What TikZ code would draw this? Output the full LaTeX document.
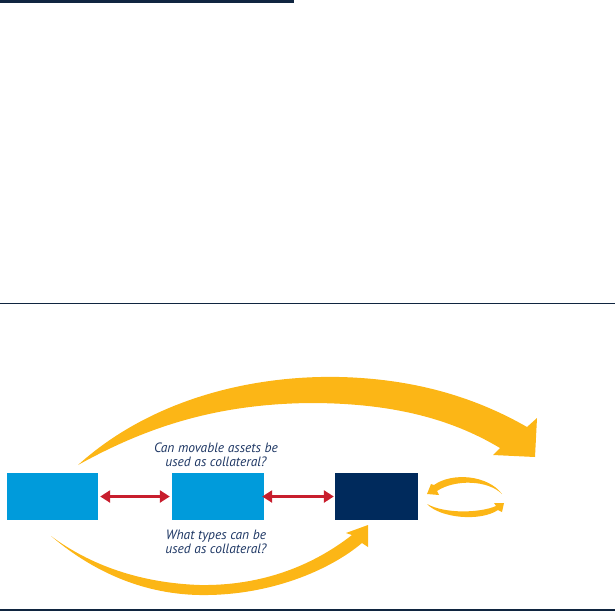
\documentclass[tikz,border=0pt]{standalone}
\usepackage{fontspec}
\setmainfont{PT Sans}
\usetikzlibrary{arrows.meta}
\definecolor{boxblue}{RGB}{0,155,219}
\definecolor{boxnavy}{RGB}{0,42,92}
\definecolor{rulenavy}{RGB}{16,37,64}
\definecolor{textnavy}{RGB}{30,55,100}
\definecolor{arrowred}{RGB}{200,30,45}
\definecolor{arrowgold}{RGB}{252,182,22}
\tikzset{
	stagebox/.style={minimum width=#1, minimum height=47pt, inner sep=0pt},
	link/.style={color=arrowred, line width=3.5pt, {Triangle[length=10pt,width=12pt]}-{Triangle[length=10pt,width=12pt]}, shorten >=2pt, shorten <=2pt},
	question/.style={align=center, inner sep=0pt, text=textnavy, font=\itshape\fontsize{13.5}{14}\selectfont}
}

\begin{document}
\begin{tikzpicture}[x=1pt, y=-1pt]
			%%%%% START %%%%%
			\useasboundingbox (0,0) rectangle (615,611);
			
			\fill[color=rulenavy] (0,0) rectangle (294,2.5);
			\fill[color=rulenavy] (0,302.5) rectangle (615,303.5);
			\fill[color=rulenavy] (0,608.5) rectangle (615,611);
			
			\node[stagebox=91pt, fill=boxblue] (first) at (52.5,496.5) {};
			\node[stagebox=92pt, fill=boxblue] (second) at (218,496.5) {};
			\node[stagebox=83pt, fill=boxnavy] (third) at (376.5,496.5) {};
			
			\draw[link] (first) -- (second);
			\draw[link, shorten <=-2pt, shorten >=1pt] (second) -- (third);
			
			\node[question] (movable) at (216,455) {Can movable assets be\\used as collateral?};
			\node[question] (types) at (216,542) {What types can be\\used as collateral?};
			
			% big arrow over the top
			\fill[color=arrowgold] (78,465) .. controls (150,400) and (250,375) .. (340,377) .. controls (420,379) and (480,400) .. (527,427) -- (537,418) -- (535,457) -- (493,455) -- (500,448) .. controls (450,418) and (390,403) .. (310,403) .. controls (220,404) and (150,425) .. (78,465) -- cycle;
			
			% arrow underneath
			\fill[color=arrowgold] (51,536) .. controls (90,565) and (140,583) .. (200,585) .. controls (270,586) and (320,560) .. (352,535) -- (346,533) -- (368,525) -- (368,547) -- (362,543) .. controls (330,570) and (270,596) .. (200,595) .. controls (135,594) and (85,565) .. (51,536) -- cycle;
			
			% small loop
			\fill[color=arrowgold] (502,494) .. controls (488,475) and (452,472) .. (434,485) -- (431,484) -- (427,494) -- (439,495) -- (437,491) .. controls (455,479) and (488,480) .. (502,494) -- cycle;
			\fill[color=arrowgold] (427,504) .. controls (440,518) and (480,522) .. (498,510) -- (502,512) -- (504,503) -- (494,503) -- (496,506) .. controls (480,513) and (445,514) .. (427,504) -- cycle;
			
			%%%%% END %%%%%
\end{tikzpicture}
\end{document}
